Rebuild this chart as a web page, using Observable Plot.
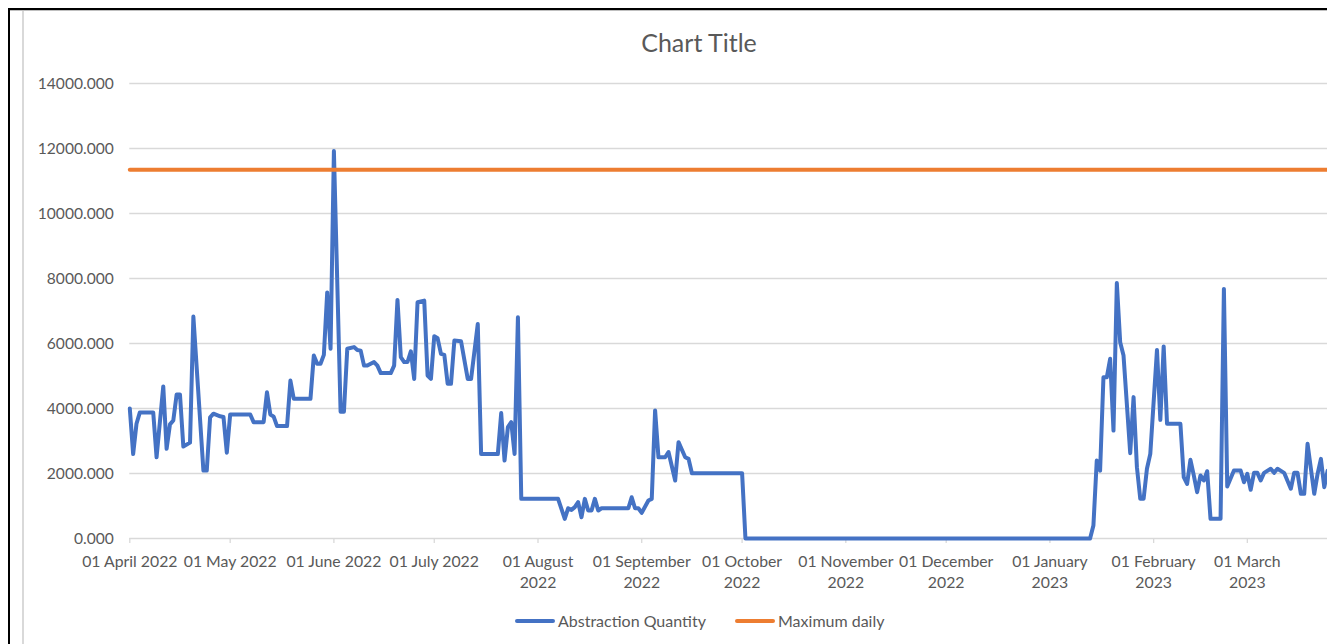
<!DOCTYPE html>
<html>
<head>
<meta charset="utf-8">
<script src="https://cdn.jsdelivr.net/npm/d3@7"></script>
<script src="https://cdn.jsdelivr.net/npm/@observablehq/plot@0.6"></script>
<style>
  html, body { margin: 0; padding: 0; background: #fff; overflow: hidden; width: 1327px; height: 644px; }
  body { position: relative; font-family: Lato, "Open Sans", sans-serif; color: #595959; }
  #chart { position: absolute; left: 0; top: 0; width: 1400px; }
  #chart svg { max-width: none; }
  .frame-top { position: absolute; left: 8px; top: 8px; width: 1330px; height: 2px; background: #000; }
  .frame-top2 { position: absolute; left: 10px; top: 10px; width: 1330px; height: 1px; background: #bfbfbf; }
  .frame-left { position: absolute; left: 8px; top: 8px; width: 2px; height: 640px; background: #000; }
  .frame-inner { position: absolute; left: 22px; top: 11px; width: 2px; height: 640px; background: #d9d9d9; }
  #title { position: absolute; left: 0; top: 26px; width: 1398px; text-align: center; font-size: 25px; line-height: 32px; color: #595959; }
  .legend-item { position: absolute; top: 610px; height: 22px; line-height: 22px; font-size: 16px; color: #595959; white-space: nowrap; }
  .swatch { position: absolute; top: 9px; width: 40px; height: 4px; border-radius: 2px; }
</style>
</head>
<body>
<div class="frame-top"></div>
<div class="frame-top2"></div>
<div class="frame-left"></div>
<div class="frame-inner"></div>
<div id="title">Chart Title</div>
<div id="chart"></div>
<div id="legend"></div>
<script>
// ---- Data ----
const seriesNames = ["Abstraction Quantity", "Maximum daily"];
const seriesColors = ["#4472C4", "#ED7D31"];

const abstractionDates = [
  "2022-04-01","2022-04-02","2022-04-03","2022-04-04","2022-04-08","2022-04-09","2022-04-11","2022-04-12",
  "2022-04-13","2022-04-14","2022-04-15","2022-04-16","2022-04-17","2022-04-19","2022-04-20","2022-04-23",
  "2022-04-24","2022-04-25","2022-04-26","2022-04-28","2022-04-29","2022-04-30","2022-05-01","2022-05-07",
  "2022-05-08","2022-05-11","2022-05-12","2022-05-13","2022-05-14","2022-05-15","2022-05-18","2022-05-19",
  "2022-05-20","2022-05-25","2022-05-26","2022-05-27","2022-05-28","2022-05-29","2022-05-30","2022-05-31",
  "2022-06-01","2022-06-03","2022-06-04","2022-06-05","2022-06-07","2022-06-08","2022-06-09","2022-06-10",
  "2022-06-11","2022-06-13","2022-06-14","2022-06-15","2022-06-18","2022-06-19","2022-06-20","2022-06-21",
  "2022-06-22","2022-06-23","2022-06-24","2022-06-25","2022-06-26","2022-06-28","2022-06-29","2022-06-30",
  "2022-07-01","2022-07-02","2022-07-03","2022-07-04","2022-07-05","2022-07-06","2022-07-07","2022-07-09",
  "2022-07-11","2022-07-12","2022-07-14","2022-07-15","2022-07-20","2022-07-21","2022-07-22","2022-07-23",
  "2022-07-24","2022-07-25","2022-07-26","2022-07-27","2022-08-07","2022-08-09","2022-08-10","2022-08-11",
  "2022-08-12","2022-08-13","2022-08-14","2022-08-15","2022-08-16","2022-08-17","2022-08-18","2022-08-19",
  "2022-08-20","2022-08-28","2022-08-29","2022-08-30","2022-08-31","2022-09-01","2022-09-03","2022-09-04",
  "2022-09-05","2022-09-06","2022-09-08","2022-09-09","2022-09-11","2022-09-12","2022-09-14","2022-09-15",
  "2022-09-16","2022-10-01","2022-10-02","2023-01-13","2023-01-14","2023-01-15","2023-01-16","2023-01-17",
  "2023-01-18","2023-01-19","2023-01-20","2023-01-21","2023-01-22","2023-01-23","2023-01-25","2023-01-26",
  "2023-01-27","2023-01-28","2023-01-29","2023-01-30","2023-01-31","2023-02-02","2023-02-03","2023-02-04",
  "2023-02-05","2023-02-09","2023-02-10","2023-02-11","2023-02-12","2023-02-13","2023-02-14","2023-02-15",
  "2023-02-16","2023-02-17","2023-02-18","2023-02-21","2023-02-22","2023-02-23","2023-02-25","2023-02-27",
  "2023-02-28","2023-03-01","2023-03-02","2023-03-03","2023-03-04","2023-03-05","2023-03-06","2023-03-08",
  "2023-03-09","2023-03-10","2023-03-12","2023-03-14","2023-03-15","2023-03-16","2023-03-17","2023-03-18",
  "2023-03-19","2023-03-20","2023-03-21","2023-03-22","2023-03-23","2023-03-24","2023-03-25","2023-03-26"
];
const abstractionValues = [
  4000,2600,3530,3880,3880,2500,4680,2760,
  3510,3630,4430,4430,2830,2950,6830,2090,
  2090,3730,3840,3760,3740,2640,3815,3815,
  3580,3580,4500,3815,3750,3460,3460,4860,
  4300,4300,5630,5375,5375,5650,7570,5840,
  11920,3900,3900,5840,5890,5800,5780,5320,
  5320,5430,5320,5090,5090,5320,7340,5580,
  5430,5430,5760,4910,7270,7320,5015,4910,
  6225,6160,5680,5650,4760,4760,6090,6070,
  4910,4910,6600,2600,2600,3860,2400,3425,
  3580,2600,6810,1220,1220,605,930,880,
  965,1120,655,1220,860,860,1220,860,
  930,930,1270,930,930,790,1170,1220,
  3940,2500,2500,2660,1785,2965,2500,2450,
  2010,2010,0,0,400,2400,2090,4960,
  4960,5530,3320,7860,6040,5630,2625,4350,
  2195,1220,1220,2145,2605,5800,3650,5910,
  3530,3530,1890,1680,2420,1940,1425,1940,
  1785,2070,605,605,7680,1600,2090,2090,
  1730,1990,1500,2020,2020,1785,2020,2145,
  2020,2145,2020,1530,2020,2020,1375,1375,
  2915,2145,1375,1990,2450,1580,2090,2090
];

const maxDailyDates = ["2022-04-01", "2023-03-31"];
const maxDailyValues = [11350, 11350];

const yTicks = [0, 2000, 4000, 6000, 8000, 10000, 12000, 14000];
const xTickDates = ["2022-04-01","2022-05-01","2022-06-01","2022-07-01","2022-08-01","2022-09-01",
  "2022-10-01","2022-11-01","2022-12-01","2023-01-01","2023-02-01","2023-03-01"];
const xTickLabels = ["01 April 2022","01 May 2022","01 June 2022","01 July 2022","01 August\n2022",
  "01 September\n2022","01 October\n2022","01 November\n2022","01 December\n2022","01 January\n2023",
  "01 February\n2023","01 March\n2023"];

// ---- Build tables ----
const parse = d3.utcParse("%Y-%m-%d");
const abstraction = abstractionDates.map((d, i) => ({date: parse(d), value: abstractionValues[i]}));
const maxDaily = maxDailyDates.map((d, i) => ({date: parse(d), value: maxDailyValues[i]}));
const xTicks = xTickDates.map(parse);

const labelColor = "#595959";
const gridColor = "#d9d9d9";

const chart = Plot.plot({
  width: 1400,
  height: 600,
  marginLeft: 129.3,
  marginRight: 52.8,
  marginTop: 83,
  marginBottom: 62,
  style: {fontFamily: "Lato, 'Open Sans', sans-serif", fontSize: "15.6px", color: labelColor, background: "transparent", maxWidth: "none", overflow: "visible"},
  x: {type: "utc", domain: [parse("2022-04-01"), parse("2023-03-31")]},
  y: {domain: [0, 14000]},
  marks: [
    Plot.ruleY(yTicks, {stroke: gridColor, strokeWidth: 1.3}),
    Plot.axisY({ticks: yTicks, tickSize: 0, tickPadding: 16, tickFormat: d => d.toFixed(3), fill: labelColor, fontSize: 15.6, label: null}),
    Plot.axisX({ticks: xTicks, tickSize: 5, tickPadding: 8.5, stroke: gridColor, strokeWidth: 1.3, strokeOpacity: 1,
      tickFormat: (d, i) => xTickLabels[i], fill: labelColor, fontSize: 15.8, lineHeight: 1.35, label: null}),
    Plot.lineY(abstraction, {x: "date", y: "value", stroke: seriesColors[0], strokeWidth: 4, strokeLinejoin: "round", strokeLinecap: "round"}),
    Plot.lineY(maxDaily, {x: "date", y: "value", stroke: seriesColors[1], strokeWidth: 4})
  ]
});
document.getElementById("chart").appendChild(chart);

// ---- Legend ----
const legend = document.getElementById("legend");
const legendPos = [515, 735];
seriesNames.forEach((name, i) => {
  const item = document.createElement("div");
  item.className = "legend-item";
  item.style.left = legendPos[i] + "px";
  item.innerHTML = `<span class="swatch" style="left:0;background:${seriesColors[i]}"></span><span style="margin-left:43px">${name}</span>`;
  legend.appendChild(item);
});
</script>
</body>
</html>
